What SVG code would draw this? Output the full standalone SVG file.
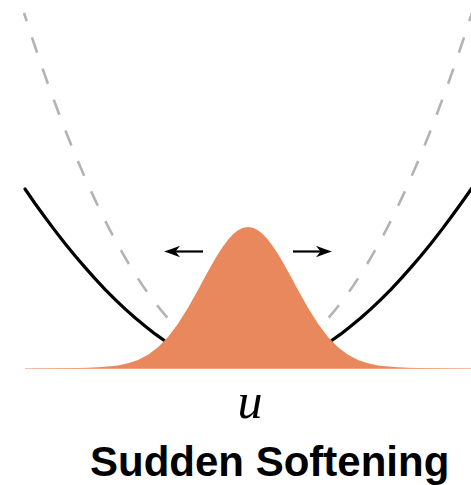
<svg xmlns="http://www.w3.org/2000/svg" width="471" height="485" viewBox="0 0 471 485">
<style>
.stiff{fill:none;stroke:#b3b3b3;stroke-width:2.6;stroke-dasharray:16 17;stroke-dashoffset:7.4}
.soft{fill:none;stroke:#000;stroke-width:3.2;stroke-linejoin:round;stroke-linecap:round}
.arrow{stroke:#000;stroke-width:2.2;marker-end:url(#head)}
.lbl{fill:#000}
</style>
<defs>
<marker id="head" viewBox="0 0 16 12" refX="6" refY="6" markerWidth="16" markerHeight="12" markerUnits="userSpaceOnUse" orient="auto">
<path d="M16,6 Q8,3.4 0,0.3 L4.5,6 L0,11.7 Q8,8.6 16,6 Z" fill="#000"/>
</marker>
</defs>
<rect width="471" height="485" fill="#fff"/>
<g id="stiff-potential">
<path class="stiff" d="M24,12.9 Q107,272.4 190,339.5"/>
<path class="stiff" d="M472,12.9 Q389,272.4 306,339.5"/>
</g>
<g id="soft-potential">
<path class="soft" d="M25,189 L35,203.5 L45,217.3 L55,230.6 L65,243.4 L75,255.7 L85,267.4 L95,278.6 L105,289.3 L115,299.3 L125,308.9 L135,317.8 L145,326.1 L155,333.9 L165,341 L175,347.5 L180,350.5"/>
<path class="soft" d="M472,188 L461,203.5 L451,217.3 L441,230.6 L431,243.4 L421,255.7 L411,267.4 L401,278.6 L391,289.3 L381,299.3 L371,308.9 L361,317.8 L351,326.1 L341,333.9 L331,341 L321,347.5 L316,350.5"/>
</g>
<g id="distribution">
<path fill="#e9885c" d="M25,368.3 L78,368.1 L88,367.7 L98,367.3 L108,366.6 L118,365.4 L128,363.3 L138,359.9 L148,354.7 L158,347.2 L168,336.9 L178,323.7 L188,307.8 L198,289.9 L203,280.6 L208,271.4 L213,262.4 L218,254 L223,246.4 L228,239.7 L233,234.3 L238,230.3 L243,227.8 L248,227 L253,227.8 L258,230.3 L263,234.3 L268,239.7 L273,246.4 L278,254 L283,262.4 L288,271.4 L293,280.6 L298,289.9 L308,307.8 L318,323.7 L328,336.9 L338,347.2 L348,354.7 L358,359.9 L368,363.3 L378,365.4 L388,366.6 L398,367.3 L408,367.7 L418,368.1 L471,368.3 L471,368.7 L25,368.7 Z"/>
</g>
<g id="connectors">
<line class="arrow" x1="203" y1="251.5" x2="174" y2="251.5"/>
<line class="arrow" x1="293" y1="251.5" x2="322" y2="251.5"/>
</g>
<g id="axis-label">
<text class="lbl" x="250" y="418" text-anchor="middle" font-family="'Liberation Serif', 'DejaVu Serif', serif" font-style="italic" font-size="50">u</text>
</g>
<g id="title">
<text class="lbl" x="90" y="476" font-family="'Liberation Sans', Arial, sans-serif" font-weight="bold" font-size="42">Sudden Softening</text>
</g>
</svg>
